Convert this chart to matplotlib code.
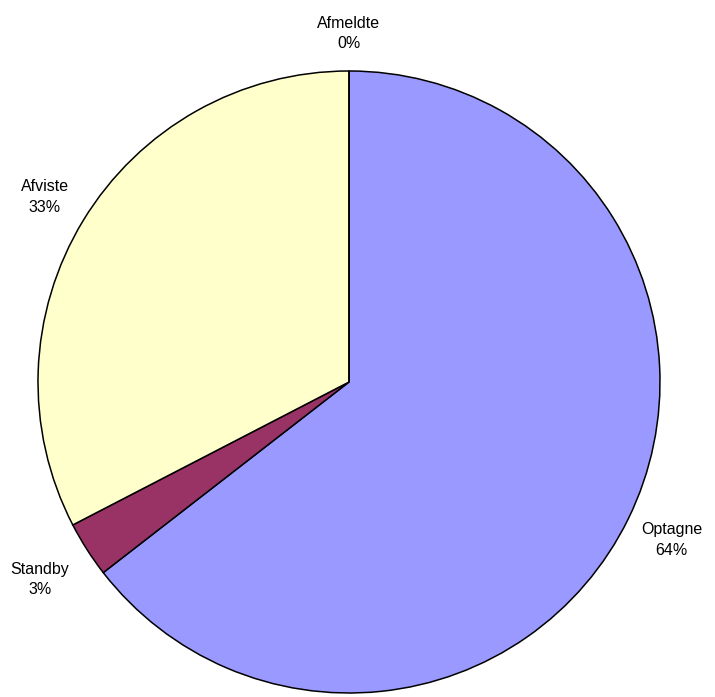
import matplotlib
matplotlib.use("Agg")
import matplotlib.pyplot as plt

labels = ["Optagne", "Standby", "Afviste", "Afmeldte"]
values = [64.5, 2.9, 32.6, 0.0]
percent_labels = ["64%", "3%", "33%", "0%"]
colors = ["#9999FF", "#993366", "#FFFFCC", "#FFFFFF"]
label_dist = [1.155, 1.18, 1.145, 1.12]

plt.rcParams["font.family"] = ["Liberation Sans", "DejaVu Sans"]

fig = plt.figure(figsize=(7.15, 6.97), dpi=100)
ax = fig.add_axes([38 / 715, 4 / 697, 622 / 715, 622 / 697])

texts_in = [f"{l}\n{p}" for l, p in zip(labels, percent_labels)]
wedges, texts = ax.pie(values, labels=texts_in, colors=colors, startangle=90,
                       counterclock=False, labeldistance=1.0,
                       wedgeprops=dict(edgecolor="black", linewidth=1.1),
                       textprops=dict(fontsize=11.5))
for t, d in zip(texts, label_dist):
    x, y = t.get_position()
    t.set_position((x * d, y * d))
    t.set_ha("center")
    t.set_va("center")
    t.set_multialignment("center")
    t.set_linespacing(1.45)

ax.set_xlim(-1, 1)
ax.set_ylim(-1, 1)
ax.set_aspect("equal")

fig.savefig("out.png", dpi=100)
